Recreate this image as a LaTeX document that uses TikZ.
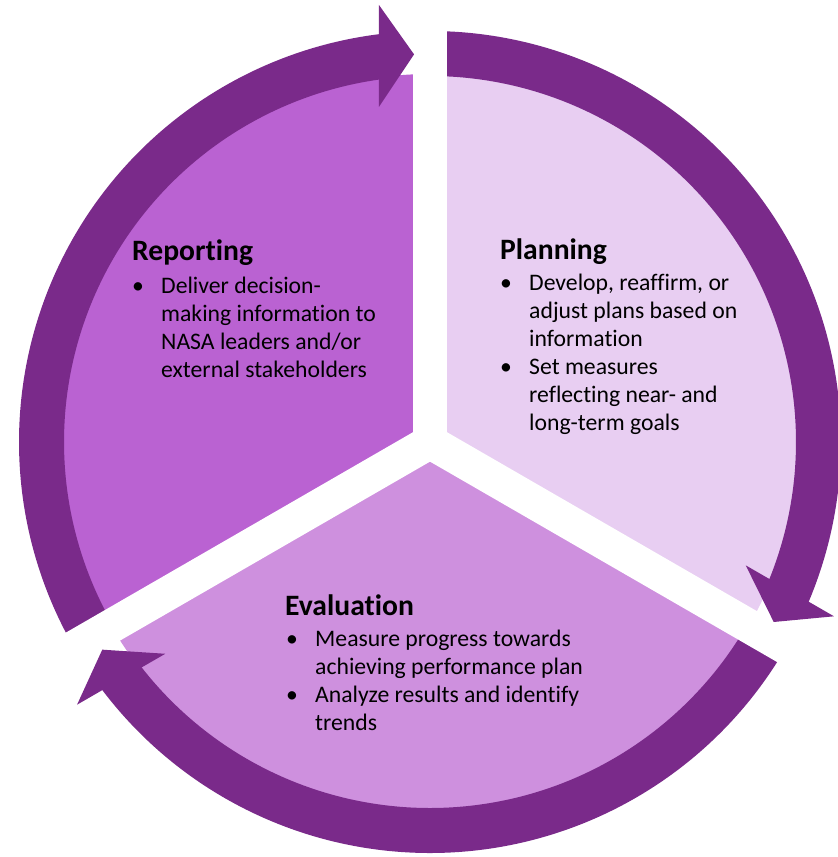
\documentclass[tikz,border=0pt]{standalone}
\usepackage{fontspec}
\setmainfont[Ligatures=NoCommon]{Carlito}
\definecolor{ringc}{RGB}{122,42,138}
\definecolor{repc}{RGB}{186,98,210}
\definecolor{planc}{RGB}{232,206,242}
\definecolor{evalc}{RGB}{206,144,222}
\newcommand{\bul}{\makebox[29pt][l]{\textbullet}}
\begin{document}
\begin{tikzpicture}[x=1pt,y=1pt,
  ttl/.style={font=\fontsize{29.6}{32}\selectfont\bfseries, inner sep=0pt, anchor=base west},
  bodytxt/.style={font=\fontsize{23.7}{28.1}\selectfont, inner sep=0pt, anchor=base west},
  ringseg/.style={fill=ringc},
  gapline/.style={draw=white, line width=34pt}]
\useasboundingbox (0,0) rectangle (838,-857);
\begin{scope}[shift={(430,-442)}]
  % sectors
  \fill[repc]  (0,0) -- (90:368)  arc[start angle=90,  end angle=210, radius=368] -- cycle;
  \fill[planc] (0,0) -- (-30:368) arc[start angle=-30, end angle=90,  radius=368] -- cycle;
  \fill[evalc] (0,0) -- (210:368) arc[start angle=210, end angle=330, radius=368] -- cycle;
  % ring segments
  \path[ringseg] (210:411) arc[start angle=210, end angle=96.9, radius=411]
     -- (96.9:366) arc[start angle=96.9, end angle=210, radius=366] -- cycle;
  \path[ringseg] (90:411) arc[start angle=90, end angle=-23.1, radius=411]
     -- (-23.1:366) arc[start angle=-23.1, end angle=90, radius=366] -- cycle;
  \path[ringseg] (-30:411) arc[start angle=-30, end angle=-143.1, radius=411]
     -- (-143.1:366) arc[start angle=-143.1, end angle=-30, radius=366] -- cycle;
  % gaps
  \foreach \a in {90,210,330} \path[gapline] (0,0) -- (\a:470);
  % arrowheads
  \path[ringseg] (92.36:388) -- (96.66:440) -- (98.66:339) -- cycle;
  \path[ringseg] (-27.64:388) -- (-23.34:440) -- (-21.34:339) -- cycle;
  \path[ringseg] (-147.64:388) -- (-143.34:440) -- (-141.34:339) -- cycle;
\end{scope}
% texts
\node[ttl] (rt) at (132,-260) {Reporting};
\node[bodytxt] (rb) at (132,-293) {\begin{tabular}[t]{@{}l@{}l@{}}
\bul & Deliver decision-\\
 & making information to\\
 & NASA leaders and/or\\
 & external stakeholders
\end{tabular}};
\node[ttl] (pt) at (500,-259.5) {Planning};
\node[bodytxt] (pb) at (500,-290) {\begin{tabular}[t]{@{}l@{}l@{}}
\bul & Develop, reaffirm, or\\
 & adjust plans based on\\
 & information\\
\bul & Set measures\\
 & reflecting near- and\\
 & long-term goals
\end{tabular}};
\node[ttl] (et) at (285,-615) {Evaluation};
\node[bodytxt] (eb) at (286,-646) {\begin{tabular}[t]{@{}l@{}l@{}}
\bul & Measure progress towards\\
 & achieving performance plan\\
\bul & Analyze results and identify\\
 & trends
\end{tabular}};
\end{tikzpicture}
\end{document}
